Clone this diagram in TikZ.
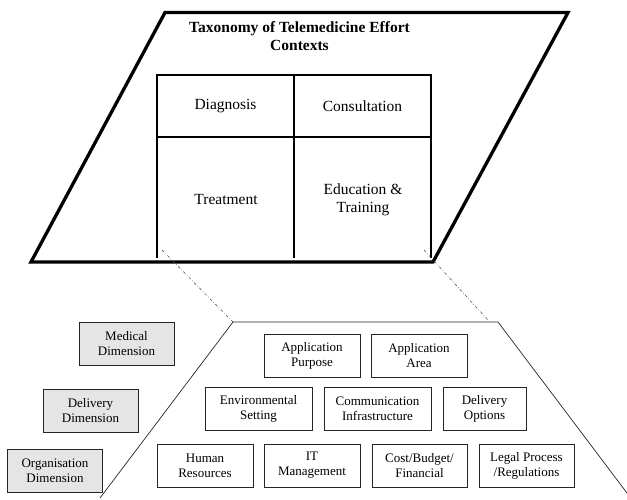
\documentclass[tikz,border=0pt]{standalone}
\usepackage{fontspec}
\setmainfont{Liberation Serif}
\begin{document}
\begin{tikzpicture}[x=1pt,y=-1pt,
  bigtext/.style={font=\fontsize{15.5}{18}\selectfont, align=center, inner sep=0pt},
  titletext/.style={font=\fontsize{15.5}{18}\selectfont\bfseries, align=center, inner sep=0pt},
  heavy/.style={line width=3.3pt, line join=miter},
  gridline/.style={line width=2.7pt, line join=miter},
  dimbox/.style={draw=black!85, line width=0.8pt, fill=black!10, align=center,
     font=\fontsize{13}{15}\selectfont, inner sep=0pt, minimum width=95pt, minimum height=43pt},
  itembox/.style={draw=black!85, line width=0.8pt, fill=white, align=center,
     font=\fontsize{13}{15}\selectfont, inner sep=0pt, minimum height=43pt},
  dashdot/.style={line width=0.5pt, black!75, dash pattern=on 3pt off 2pt on 0.6pt off 2pt},
  thinline/.style={line width=0.7pt, black!85}]
\useasboundingbox (0,0) rectangle (627,499);
% top parallelogram
\coordinate (pTL) at (165,12.5);
\coordinate (pTR) at (568,12.5);
\coordinate (pBR) at (433,262);
\coordinate (pBL) at (31,262);
\draw[heavy] (pTL) -- (pTR) -- (pBR) -- (pBL) -- cycle;
% grid
\coordinate (gL0) at (157,258);
\coordinate (gL1) at (157,75);
\coordinate (gR1) at (431,75);
\coordinate (gR0) at (431,258);
\coordinate (gM0) at (294,258);
\coordinate (gM1) at (294,75);
\coordinate (gHL) at (157,137);
\coordinate (gHR) at (431,137);
\draw[gridline] (gL0) -- (gL1) -- (gR1) -- (gR0);
\draw[gridline] (gM0) -- (gM1);
\draw[gridline] (gHL) -- (gHR);
\node[titletext] (title) at (299.5,36) {Taxonomy of Telemedicine Effort\\Contexts};
\node[bigtext] (diag) at (225.5,106) {Diagnosis};
\node[bigtext] (cons) at (362.5,106) {Consultation};
\node[bigtext] (treat) at (226,199) {Treatment};
\node[bigtext] (edu) at (363,199.5) {Education \&\\Training};
% trapezoid
\coordinate (tBL) at (100,498);
\coordinate (tTL) at (233,322);
\coordinate (tTR) at (498,322);
\coordinate (tBR) at (627,493);
\draw[thinline] (tBL) -- (tTL) -- (tTR) -- (tBR);
% dash-dot connectors
\coordinate (dL0) at (162,250);
\coordinate (dR0) at (424,250);
\coordinate (dR1) at (488,320);
\draw[dashdot] (dL0) -- (tTL);
\draw[dashdot] (dR0) -- (dR1);
% dimensions
\node[dimbox] (med) at (126.5,344) {Medical\\Dimension};
\node[dimbox] (del) at (90.5,410.5) {Delivery\\Dimension};
\node[dimbox] (org) at (55,470.5) {Organisation\\Dimension};
% items
\node[itembox, minimum width=96pt] (ap) at (312,356) {Application\\Purpose};
\node[itembox, minimum width=96pt] (aa) at (419,356) {Application\\Area};
\node[itembox, minimum width=107pt] (es) at (258.5,408.5) {Environmental\\Setting};
\node[itembox, minimum width=107pt] (ci) at (377.5,408.5) {Communication\\Infrastructure};
\node[itembox, minimum width=83pt] (do) at (484.5,408.5) {Delivery\\Options};
\node[itembox, minimum width=96pt] (hr) at (205,465.5) {Human\\Resources};
\node[itembox, minimum width=96pt] (it) at (312,465.5) {IT\\Management};
\node[itembox, minimum width=95pt] (cb) at (419.5,465.5) {Cost/Budget/\\Financial};
\node[itembox, minimum width=95pt] (lp) at (526.5,465.5) {Legal Process\\/Regulations};
\end{tikzpicture}
\end{document}
